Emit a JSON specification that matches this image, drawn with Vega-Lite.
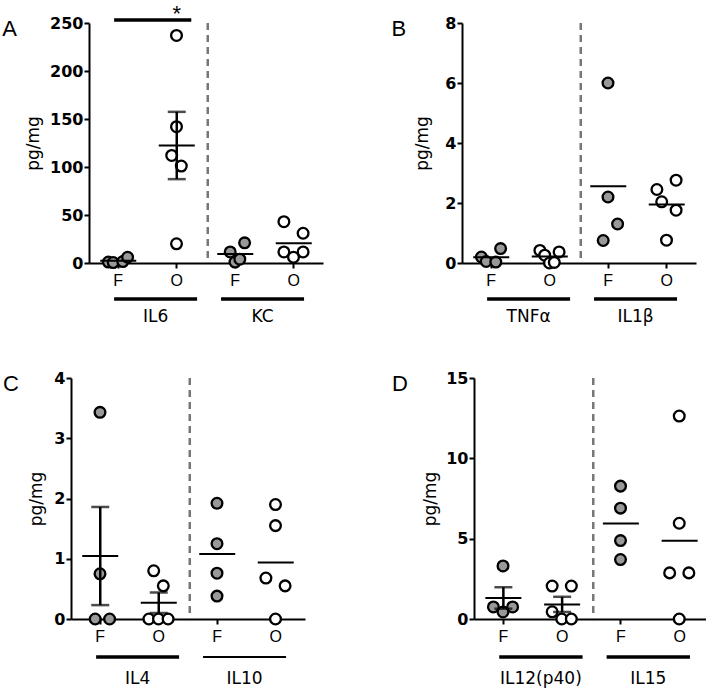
{
  "$schema": "https://vega.github.io/schema/vega-lite/v6.json",
  "padding": {"left": 2, "top": 3, "right": 0, "bottom": 0},
  "columns": 2,
  "align": "none",
  "spacing": {"row": 44, "column": 68},
  "datasets": {
    "cyto": [
      {"p": "A", "g": "IL6", "d": "F", "s": 1, "v": 1},
      {"p": "A", "g": "IL6", "d": "F", "s": 2, "v": 0.5},
      {"p": "A", "g": "IL6", "d": "F", "s": 4, "v": 1.5},
      {"p": "A", "g": "IL6", "d": "F", "s": 5, "v": 6},
      {"p": "A", "g": "IL6", "d": "O", "s": 2, "v": 112},
      {"p": "A", "g": "IL6", "d": "O", "s": 3, "v": 237},
      {"p": "A", "g": "IL6", "d": "O", "s": 3, "v": 142},
      {"p": "A", "g": "IL6", "d": "O", "s": 3, "v": 20},
      {"p": "A", "g": "IL6", "d": "O", "s": 4, "v": 101},
      {"p": "A", "g": "KC", "d": "F", "s": 2, "v": 11.5},
      {"p": "A", "g": "KC", "d": "F", "s": 3, "v": 1},
      {"p": "A", "g": "KC", "d": "F", "s": 4, "v": 4},
      {"p": "A", "g": "KC", "d": "F", "s": 5, "v": 21},
      {"p": "A", "g": "KC", "d": "O", "s": 1, "v": 43},
      {"p": "A", "g": "KC", "d": "O", "s": 1, "v": 11.5},
      {"p": "A", "g": "KC", "d": "O", "s": 3, "v": 6},
      {"p": "A", "g": "KC", "d": "O", "s": 5, "v": 11.5},
      {"p": "A", "g": "KC", "d": "O", "s": 5, "v": 31},
      {"p": "B", "g": "TNFα", "d": "F", "s": 1, "v": 0.2},
      {"p": "B", "g": "TNFα", "d": "F", "s": 2, "v": 0.05},
      {"p": "B", "g": "TNFα", "d": "F", "s": 4, "v": 0.03},
      {"p": "B", "g": "TNFα", "d": "F", "s": 5, "v": 0.48},
      {"p": "B", "g": "TNFα", "d": "O", "s": 1, "v": 0.42},
      {"p": "B", "g": "TNFα", "d": "O", "s": 2, "v": 0.26},
      {"p": "B", "g": "TNFα", "d": "O", "s": 3, "v": 0},
      {"p": "B", "g": "TNFα", "d": "O", "s": 4, "v": 0.02},
      {"p": "B", "g": "TNFα", "d": "O", "s": 5, "v": 0.37},
      {"p": "B", "g": "IL1β", "d": "F", "s": 2, "v": 0.75},
      {"p": "B", "g": "IL1β", "d": "F", "s": 3, "v": 6.0},
      {"p": "B", "g": "IL1β", "d": "F", "s": 3, "v": 2.2},
      {"p": "B", "g": "IL1β", "d": "F", "s": 5, "v": 1.3},
      {"p": "B", "g": "IL1β", "d": "O", "s": 1, "v": 2.45},
      {"p": "B", "g": "IL1β", "d": "O", "s": 2, "v": 2.04},
      {"p": "B", "g": "IL1β", "d": "O", "s": 3, "v": 0.76},
      {"p": "B", "g": "IL1β", "d": "O", "s": 5, "v": 1.76},
      {"p": "B", "g": "IL1β", "d": "O", "s": 5, "v": 2.76},
      {"p": "C", "g": "IL4", "d": "F", "s": 2, "v": 0},
      {"p": "C", "g": "IL4", "d": "F", "s": 3, "v": 3.43},
      {"p": "C", "g": "IL4", "d": "F", "s": 3, "v": 0.75},
      {"p": "C", "g": "IL4", "d": "F", "s": 5, "v": 0},
      {"p": "C", "g": "IL4", "d": "O", "s": 1, "v": 0},
      {"p": "C", "g": "IL4", "d": "O", "s": 2, "v": 0.8},
      {"p": "C", "g": "IL4", "d": "O", "s": 3, "v": 0},
      {"p": "C", "g": "IL4", "d": "O", "s": 4, "v": 0.55},
      {"p": "C", "g": "IL4", "d": "O", "s": 5, "v": 0},
      {"p": "C", "g": "IL10", "d": "F", "s": 3, "v": 1.92},
      {"p": "C", "g": "IL10", "d": "F", "s": 3, "v": 1.25},
      {"p": "C", "g": "IL10", "d": "F", "s": 3, "v": 0.76},
      {"p": "C", "g": "IL10", "d": "F", "s": 3, "v": 0.38},
      {"p": "C", "g": "IL10", "d": "O", "s": 3, "v": 1.9},
      {"p": "C", "g": "IL10", "d": "O", "s": 3, "v": 1.55},
      {"p": "C", "g": "IL10", "d": "O", "s": 1, "v": 0.68},
      {"p": "C", "g": "IL10", "d": "O", "s": 5, "v": 0.55},
      {"p": "C", "g": "IL10", "d": "O", "s": 3, "v": 0},
      {"p": "D", "g": "IL12(p40)", "d": "F", "s": 3, "v": 3.3},
      {"p": "D", "g": "IL12(p40)", "d": "F", "s": 1, "v": 0.75},
      {"p": "D", "g": "IL12(p40)", "d": "F", "s": 3, "v": 0.44},
      {"p": "D", "g": "IL12(p40)", "d": "F", "s": 5, "v": 0.75},
      {"p": "D", "g": "IL12(p40)", "d": "O", "s": 1, "v": 2.05},
      {"p": "D", "g": "IL12(p40)", "d": "O", "s": 5, "v": 2.05},
      {"p": "D", "g": "IL12(p40)", "d": "O", "s": 1, "v": 0.45},
      {"p": "D", "g": "IL12(p40)", "d": "O", "s": 3, "v": 0},
      {"p": "D", "g": "IL12(p40)", "d": "O", "s": 5, "v": 0},
      {"p": "D", "g": "IL15", "d": "F", "s": 3, "v": 8.27},
      {"p": "D", "g": "IL15", "d": "F", "s": 3, "v": 6.9},
      {"p": "D", "g": "IL15", "d": "F", "s": 3, "v": 4.88},
      {"p": "D", "g": "IL15", "d": "F", "s": 3, "v": 3.7},
      {"p": "D", "g": "IL15", "d": "O", "s": 3, "v": 12.63},
      {"p": "D", "g": "IL15", "d": "O", "s": 3, "v": 5.96},
      {"p": "D", "g": "IL15", "d": "O", "s": 1, "v": 2.87},
      {"p": "D", "g": "IL15", "d": "O", "s": 5, "v": 2.87},
      {"p": "D", "g": "IL15", "d": "O", "s": 3, "v": 0}
    ],
    "groups": [
      {"p": "A", "g": "IL6"}, {"p": "A", "g": "KC"},
      {"p": "B", "g": "TNFα"}, {"p": "B", "g": "IL1β"},
      {"p": "C", "g": "IL4"}, {"p": "C", "g": "IL10"},
      {"p": "D", "g": "IL12(p40)"}, {"p": "D", "g": "IL15"}
    ],
    "one": [{}]
  },
  "config": {
    "font": "DejaVu Sans",
    "view": {"stroke": null},
    "axis": {"domainColor": "#000", "domainWidth": 2, "tickColor": "#000", "tickWidth": 2, "tickSize": 5, "labelColor": "#000", "titleColor": "#000", "grid": false},
    "axisY": {"labelFont": "DejaVu Sans", "labelFontWeight": "bold", "labelFontSize": 16, "titleFont": "DejaVu Sans", "titleFontSize": 17, "titleFontWeight": "normal", "titlePadding": 8, "labelPadding": 1, "format": "d"},
    "axisX": {"labelFont": "Liberation Sans", "labelFontSize": 16, "labelPadding": 4, "labelAngle": 0},
    "title": {"font": "Liberation Sans", "fontSize": 22, "fontWeight": "normal", "orient": "left", "anchor": "end", "angle": 0, "align": "right", "baseline": "top", "frame": "group", "color": "#000", "offset": -7, "dy": -4}
  },
  "concat": [
    {
      "width": 234, "height": 240,
      "title": {"text": "A"},
      "resolve": {"scale": {"x": "independent"}},
      "layer": [
        {
          "data": {"name": "cyto"},
          "transform": [{"filter": "datum.p == 'A'"}, {"calculate": "datum.g + '|' + datum.d", "as": "cat"}],
          "encoding": {"x": {"field": "cat", "type": "nominal", "scale": {"type": "band", "domain": ["IL6|F", "IL6|O", "KC|F", "KC|O"], "paddingInner": 0, "paddingOuter": 0}, "axis": {"title": null, "labelExpr": "split(datum.value, '|')[1]"}}},
          "layer": [
            {"data": {"name": "one"}, "mark": {"type": "rule", "color": "#777", "strokeWidth": 2.5, "strokeDash": [7, 5]}, "encoding": {"x": {"datum": "KC|F", "bandPosition": 0.03}}},
            {"mark": {"type": "circle", "size": 115, "stroke": "#000", "strokeWidth": 2.3, "opacity": 1},
             "encoding": {
               "xOffset": {"field": "s", "type": "ordinal", "scale": {"type": "point", "domain": [1, 2, 3, 4, 5], "range": [17, 41]}},
               "y": {"field": "v", "type": "quantitative", "scale": {"domain": [0, 250], "nice": false}, "axis": {"values": [0, 50, 100, 150, 200, 250], "title": "pg/mg", "titlePadding": 7}},
               "fill": {"field": "d", "type": "nominal", "scale": {"domain": ["F", "O"], "range": ["#999999", "#ffffff"]}, "legend": null}}},
            {"mark": {"type": "tick", "color": "#000", "thickness": 2, "size": 36},
             "encoding": {"y": {"aggregate": "mean", "field": "v", "type": "quantitative", "scale": {"domain": [0, 250], "nice": false}, "title": "pg/mg"}}},
            {"transform": [{"filter": {"field": "cat", "oneOf": ["IL6|O"]}}],
             "mark": {"type": "errorbar", "extent": "stderr", "ticks": {"size": 18, "thickness": 2.5, "color": "#000"}, "rule": {"strokeWidth": 2.5, "color": "#000"}},
             "encoding": {"y": {"field": "v", "type": "quantitative", "scale": {"domain": [0, 250], "nice": false}, "title": "pg/mg"}}},
            {"data": {"name": "one"}, "mark": {"type": "text", "text": "*", "fontSize": 22, "baseline": "middle", "font": "Liberation Sans"},
             "encoding": {"x": {"datum": "IL6|O"}, "y": {"datum": 259, "type": "quantitative", "scale": {"domain": [0, 250], "nice": false}}}}
          ]
        },
        {
          "data": {"name": "groups"},
          "transform": [{"filter": "datum.p == 'A'"}],
          "encoding": {"x": {"field": "g", "type": "nominal", "sort": null, "scale": {"type": "band", "paddingInner": 0.224, "paddingOuter": 0.206, "align": 0.57}, "axis": null}},
          "layer": [
            {"mark": {"type": "rule", "color": "#000", "strokeWidth": 3.5}, "encoding": {"x": {"field": "g", "type": "nominal", "sort": null, "bandPosition": 0}, "x2": {"field": "g", "bandPosition": 1}, "y": {"datum": -37.5, "type": "quantitative", "scale": {"domain": [0, 250], "nice": false}}}},
            {"transform": [{"filter": "datum.g == 'IL6'"}], "mark": {"type": "rule", "color": "#000", "strokeWidth": 3.5}, "encoding": {"x": {"field": "g", "type": "nominal", "sort": null, "bandPosition": 0}, "x2": {"field": "g", "bandPosition": 0.93}, "y": {"datum": 253, "type": "quantitative", "scale": {"domain": [0, 250], "nice": false}}}},
            {"mark": {"type": "text", "fontSize": 17, "baseline": "middle", "color": "#000"}, "encoding": {"y": {"datum": -56.5, "type": "quantitative", "scale": {"domain": [0, 250], "nice": false}}, "text": {"field": "g"}}}
          ]
        }
      ]
    },
    {
      "width": 234, "height": 240,
      "title": {"text": "B"},
      "resolve": {"scale": {"x": "independent"}},
      "layer": [
        {
          "data": {"name": "cyto"},
          "transform": [{"filter": "datum.p == 'B'"}, {"calculate": "datum.g + '|' + datum.d", "as": "cat"}],
          "encoding": {"x": {"field": "cat", "type": "nominal", "scale": {"type": "band", "domain": ["TNFα|F", "TNFα|O", "IL1β|F", "IL1β|O"], "paddingInner": 0, "paddingOuter": 0}, "axis": {"title": null, "labelExpr": "split(datum.value, '|')[1]"}}},
          "layer": [
            {"data": {"name": "one"}, "mark": {"type": "rule", "color": "#777", "strokeWidth": 2.5, "strokeDash": [7, 5]}, "encoding": {"x": {"datum": "IL1β|F", "bandPosition": 0.03}}},
            {"mark": {"type": "circle", "size": 115, "stroke": "#000", "strokeWidth": 2.3, "opacity": 1},
             "encoding": {
               "xOffset": {"field": "s", "type": "ordinal", "scale": {"type": "point", "domain": [1, 2, 3, 4, 5], "range": [17, 41]}},
               "y": {"field": "v", "type": "quantitative", "scale": {"domain": [0, 8], "nice": false}, "axis": {"values": [0, 2, 4, 6, 8], "title": "pg/mg", "titlePadding": 13}},
               "fill": {"field": "d", "type": "nominal", "scale": {"domain": ["F", "O"], "range": ["#999999", "#ffffff"]}, "legend": null}}},
            {"mark": {"type": "tick", "color": "#000", "thickness": 2, "size": 36},
             "encoding": {"y": {"aggregate": "mean", "field": "v", "type": "quantitative", "scale": {"domain": [0, 8], "nice": false}, "title": "pg/mg"}}}
          ]
        },
        {
          "data": {"name": "groups"},
          "transform": [{"filter": "datum.p == 'B'"}],
          "encoding": {"x": {"field": "g", "type": "nominal", "sort": null, "scale": {"type": "band", "paddingInner": 0.224, "paddingOuter": 0.206, "align": 0.57}, "axis": null}},
          "layer": [
            {"mark": {"type": "rule", "color": "#000", "strokeWidth": 3.5}, "encoding": {"x": {"field": "g", "type": "nominal", "sort": null, "bandPosition": 0}, "x2": {"field": "g", "bandPosition": 1}, "y": {"datum": -1.2, "type": "quantitative", "scale": {"domain": [0, 8], "nice": false}}}},
            {"mark": {"type": "text", "fontSize": 17, "baseline": "middle", "color": "#000"}, "encoding": {"y": {"datum": -1.81, "type": "quantitative", "scale": {"domain": [0, 8], "nice": false}}, "text": {"field": "g"}}}
          ]
        }
      ]
    },
    {
      "width": 216, "height": 241,
      "title": {"text": "C"},
      "resolve": {"scale": {"x": "independent"}},
      "layer": [
        {
          "data": {"name": "cyto"},
          "transform": [{"filter": "datum.p == 'C'"}, {"calculate": "datum.g + '|' + datum.d", "as": "cat"}],
          "encoding": {"x": {"field": "cat", "type": "nominal", "scale": {"type": "band", "domain": ["IL4|F", "IL4|O", "IL10|F", "IL10|O"], "paddingInner": 0, "paddingOuter": 0, "range": [-18, 216]}, "axis": {"title": null, "labelExpr": "split(datum.value, '|')[1]"}}},
          "layer": [
            {"data": {"name": "one"}, "mark": {"type": "rule", "color": "#777", "strokeWidth": 2.5, "strokeDash": [7, 5]}, "encoding": {"x": {"datum": "IL10|F", "bandPosition": 0.03}}},
            {"mark": {"type": "circle", "size": 115, "stroke": "#000", "strokeWidth": 2.3, "opacity": 1},
             "encoding": {
               "xOffset": {"field": "s", "type": "ordinal", "scale": {"type": "point", "domain": [1, 2, 3, 4, 5], "range": [17, 41]}},
               "y": {"field": "v", "type": "quantitative", "scale": {"domain": [0, 4], "nice": false}, "axis": {"values": [0, 1, 2, 3, 4], "title": "pg/mg", "titlePadding": 8, "offset": 18}},
               "fill": {"field": "d", "type": "nominal", "scale": {"domain": ["F", "O"], "range": ["#999999", "#ffffff"]}, "legend": null}}},
            {"mark": {"type": "tick", "color": "#000", "thickness": 2, "size": 36},
             "encoding": {"y": {"aggregate": "mean", "field": "v", "type": "quantitative", "scale": {"domain": [0, 4], "nice": false}, "title": "pg/mg"}}},
            {"transform": [{"filter": {"field": "cat", "oneOf": ["IL4|F", "IL4|O"]}}],
             "mark": {"type": "errorbar", "extent": "stderr", "ticks": {"size": 18, "thickness": 2.5, "color": "#000"}, "rule": {"strokeWidth": 2.5, "color": "#000"}},
             "encoding": {"y": {"field": "v", "type": "quantitative", "scale": {"domain": [0, 4], "nice": false}, "title": "pg/mg"}}}
          ]
        },
        {
          "data": {"name": "groups"},
          "transform": [{"filter": "datum.p == 'C'"}],
          "encoding": {"x": {"field": "g", "type": "nominal", "sort": null, "scale": {"type": "band", "paddingInner": 0.224, "paddingOuter": 0.206, "align": 0.57, "range": [-18, 216]}, "axis": null}},
          "layer": [
            {"mark": {"type": "rule", "color": "#000"}, "encoding": {"x": {"field": "g", "type": "nominal", "sort": null, "bandPosition": 0}, "x2": {"field": "g", "bandPosition": 1}, "y": {"datum": -0.631, "type": "quantitative", "scale": {"domain": [0, 4], "nice": false}}, "strokeWidth": {"condition": {"test": "datum.g == 'IL10'", "value": 2}, "value": 3.5}}},
            {"mark": {"type": "text", "fontSize": 17, "baseline": "middle", "color": "#000"}, "encoding": {"y": {"datum": -0.996, "type": "quantitative", "scale": {"domain": [0, 4], "nice": false}}, "text": {"field": "g"}}}
          ]
        }
      ]
    },
    {
      "width": 235, "height": 241,
      "title": {"text": "D", "offset": -2},
      "resolve": {"scale": {"x": "independent"}},
      "layer": [
        {
          "data": {"name": "cyto"},
          "transform": [{"filter": "datum.p == 'D'"}, {"calculate": "datum.g + '|' + datum.d", "as": "cat"}],
          "encoding": {"x": {"field": "cat", "type": "nominal", "scale": {"type": "band", "domain": ["IL12(p40)|F", "IL12(p40)|O", "IL15|F", "IL15|O"], "paddingInner": 0, "paddingOuter": 0}, "axis": {"title": null, "labelExpr": "split(datum.value, '|')[1]"}}},
          "layer": [
            {"data": {"name": "one"}, "mark": {"type": "rule", "color": "#777", "strokeWidth": 2.5, "strokeDash": [7, 5]}, "encoding": {"x": {"datum": "IL15|F", "bandPosition": 0.03}}},
            {"mark": {"type": "circle", "size": 115, "stroke": "#000", "strokeWidth": 2.3, "opacity": 1},
             "encoding": {
               "xOffset": {"field": "s", "type": "ordinal", "scale": {"type": "point", "domain": [1, 2, 3, 4, 5], "range": [17, 41]}},
               "y": {"field": "v", "type": "quantitative", "scale": {"domain": [0, 15], "nice": false}, "axis": {"values": [0, 5, 10, 15], "title": "pg/mg", "titlePadding": 6}},
               "fill": {"field": "d", "type": "nominal", "scale": {"domain": ["F", "O"], "range": ["#999999", "#ffffff"]}, "legend": null}}},
            {"mark": {"type": "tick", "color": "#000", "thickness": 2, "size": 36},
             "encoding": {"y": {"aggregate": "mean", "field": "v", "type": "quantitative", "scale": {"domain": [0, 15], "nice": false}, "title": "pg/mg"}}},
            {"transform": [{"filter": {"field": "cat", "oneOf": ["IL12(p40)|F", "IL12(p40)|O"]}}],
             "mark": {"type": "errorbar", "extent": "stderr", "ticks": {"size": 18, "thickness": 2.5, "color": "#000"}, "rule": {"strokeWidth": 2.5, "color": "#000"}},
             "encoding": {"y": {"field": "v", "type": "quantitative", "scale": {"domain": [0, 15], "nice": false}, "title": "pg/mg"}}}
          ]
        },
        {
          "data": {"name": "groups"},
          "transform": [{"filter": "datum.p == 'D'"}],
          "encoding": {"x": {"field": "g", "type": "nominal", "sort": null, "scale": {"type": "band", "paddingInner": 0.224, "paddingOuter": 0.206, "align": 0.57}, "axis": null}},
          "layer": [
            {"mark": {"type": "rule", "color": "#000", "strokeWidth": 3.5}, "encoding": {"x": {"field": "g", "type": "nominal", "sort": null, "bandPosition": 0}, "x2": {"field": "g", "bandPosition": 1}, "y": {"datum": -2.365, "type": "quantitative", "scale": {"domain": [0, 15], "nice": false}}}},
            {"mark": {"type": "text", "fontSize": 17, "baseline": "middle", "color": "#000"}, "encoding": {"y": {"datum": -3.73, "type": "quantitative", "scale": {"domain": [0, 15], "nice": false}}, "text": {"field": "g"}}}
          ]
        }
      ]
    }
  ]
}
